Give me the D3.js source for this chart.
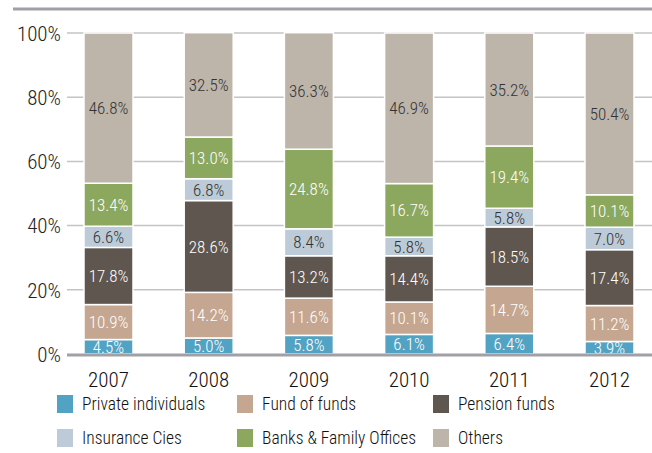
<!DOCTYPE html>
<html><head><meta charset="utf-8">
<script src="https://cdn.jsdelivr.net/npm/d3@7"></script>
<style>
body{margin:0;background:#fff;}
svg{display:block;font-family:"Roboto Condensed","Roboto",sans-serif;font-weight:300;}
</style></head>
<body><svg id="c" width="652" height="453"></svg>
<script>
const years = ["2007","2008","2009","2010","2011","2012"];
const seriesNames = ["Private individuals","Fund of funds","Pension funds","Insurance Cies","Banks & Family Offices","Others"];
const privateInd = [4.5,5.0,5.8,6.1,6.4,3.9];
const fundOfFunds = [10.9,14.2,11.6,10.1,14.7,11.2];
const pensionFunds = [17.8,28.6,13.2,14.4,18.5,17.4];
const insurance = [6.6,6.8,8.4,5.8,5.8,7.0];
const banks = [13.4,13.0,24.8,16.7,19.4,10.1];
const others = [46.8,32.5,36.3,46.9,35.2,50.4];
const yTicks = [0,20,40,60,80,100];

(function(){
const FONT = '"Roboto Condensed","Roboto",sans-serif';
const colors = ["#52a3c3","#c5a690","#5f564f","#bccbd7","#8ca85f","#bdb4aa"];
const labelColors = ["#fff","#fff","#fff","#333","#fff","#333"];
const seriesVals = [privateInd,fundOfFunds,pensionFunds,insurance,banks,others];

const data = years.map((yr,i)=>{const o={year:yr}; seriesNames.forEach((s,j)=>o[s]=seriesVals[j][i]); return o;});
const stack = d3.stack().keys(seriesNames)(data);

const svg = d3.select("#c");
const pL=67, pR=652, pT=33, pB=354;
const x = d3.scaleBand().domain(years).range([58.4, 659.6]).paddingInner(0.511).paddingOuter(0.2555);
const y = d3.scaleLinear().domain([0,100]).range([pB,pT]);

// top rule
svg.append("line").attr("x1",13).attr("x2",652).attr("y1",9).attr("y2",9).attr("stroke","#a0a0a6").attr("stroke-width",3);

// grid
svg.append("g").selectAll("line").data(yTicks.filter(t=>t>0)).join("line")
  .attr("x1",pL).attr("x2",pR).attr("y1",d=>y(d)).attr("y2",d=>y(d))
  .attr("stroke","#c4c4c4").attr("stroke-width",1.5);

// y axis labels
const yAxis = d3.axisLeft(y).tickValues(yTicks).tickFormat(d=>d+"%").tickSize(0).tickPadding(0);
const ga = svg.append("g").attr("transform",`translate(61,0)`).call(yAxis)
  .attr("font-family",FONT).attr("font-weight",300);
ga.select(".domain").remove();
ga.selectAll("text").attr("font-size",21).attr("fill","#222").attr("dy","0.35em");

// bars
const layers = svg.append("g").selectAll("g").data(stack).join("g").attr("fill",(d,i)=>colors[i]);
layers.selectAll("rect").data(d=>d).join("rect")
  .attr("x",d=>x(d.data.year)).attr("width",x.bandwidth())
  .attr("y",d=>y(d[1])).attr("height",d=>y(d[0])-y(d[1]))
  .attr("stroke","#fff").attr("stroke-width",1.5);

// segment labels
stack.forEach((layer,i)=>{
  svg.append("g").selectAll("text").data(layer).join("text")
    .attr("x",d=>x(d.data.year)+x.bandwidth()/2)
    .attr("y",d=>(y(d[0])+y(d[1]))/2)
    .attr("dy","0.36em").attr("text-anchor","middle")
    .attr("font-size",17).attr("fill",labelColors[i])
    .text(d=>(d[1]-d[0]).toFixed(1)+"%");
});

// baseline
svg.append("line").attr("x1",pL).attr("x2",pR).attr("y1",pB+1).attr("y2",pB+1).attr("stroke","#a0a0a6").attr("stroke-width",3);

// x axis labels
const xAxis = d3.axisBottom(x).tickSize(0).tickPadding(0);
const gx = svg.append("g").attr("transform",`translate(0,${pB+26})`).call(xAxis)
  .attr("font-family",FONT).attr("font-weight",300);
gx.select(".domain").remove();
gx.selectAll("text").attr("font-size",21).attr("fill","#111").attr("dy","0.35em");

// legend
const legX=[57,237,433], legY=[404,438];
seriesNames.forEach((s,i)=>{
  const cx=legX[i%3], cy=legY[Math.floor(i/3)];
  svg.append("rect").attr("x",cx).attr("y",cy-9).attr("width",16).attr("height",18).attr("fill",colors[i]);
  svg.append("text").attr("x",cx+25).attr("y",cy).attr("dy","0.35em").attr("font-size",17.5).attr("fill","#111").text(s);
});
})();
</script></body></html>
